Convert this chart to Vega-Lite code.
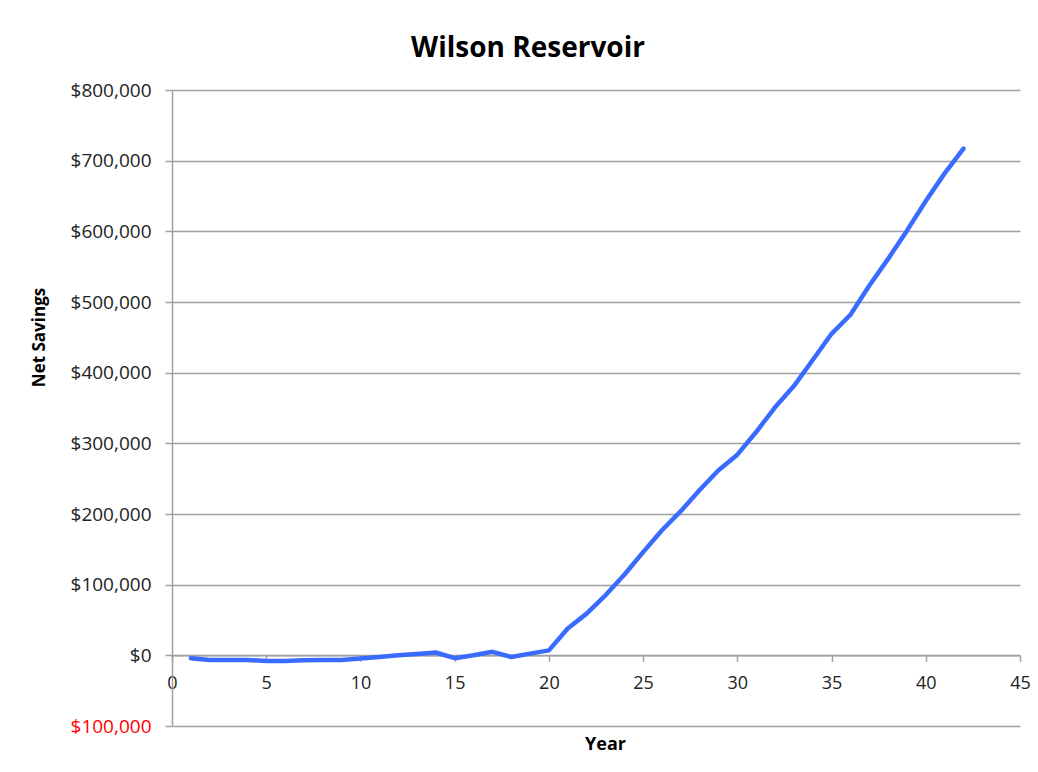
{
  "$schema": "https://vega.github.io/schema/vega-lite/v6.json",
  "autosize": "none",
  "padding": {"left": 172, "top": 90, "right": 18, "bottom": 46},
  "width": 848,
  "height": 636,
  "background": "white",
  "title": {
    "text": "Wilson Reservoir",
    "font": "Open Sans",
    "fontSize": 28,
    "fontWeight": "bold",
    "color": "#000000",
    "anchor": "middle",
    "dx": -68,
    "offset": 18
  },
  "config": {
    "view": {"stroke": null},
    "axis": {
      "labelFont": "Open Sans",
      "titleFont": "Open Sans",
      "labelColor": "#222222",
      "titleColor": "#000000",
      "domainColor": "#a0a0a0",
      "tickColor": "#a0a0a0",
      "gridColor": "#a0a0a0",
      "domainWidth": 1.5,
      "tickWidth": 1.5,
      "gridWidth": 1.5
    }
  },
  "data": {
    "values": [
      {"year": 1, "savings": -4000},
      {"year": 2, "savings": -6500},
      {"year": 3, "savings": -6500},
      {"year": 4, "savings": -6500},
      {"year": 5, "savings": -8000},
      {"year": 6, "savings": -8000},
      {"year": 7, "savings": -7000},
      {"year": 8, "savings": -6500},
      {"year": 9, "savings": -6500},
      {"year": 10, "savings": -4500},
      {"year": 11, "savings": -2400},
      {"year": 12, "savings": 0},
      {"year": 13, "savings": 2000},
      {"year": 14, "savings": 4000},
      {"year": 15, "savings": -4000},
      {"year": 16, "savings": 0},
      {"year": 17, "savings": 5000},
      {"year": 18, "savings": -2400},
      {"year": 19, "savings": 2400},
      {"year": 20, "savings": 7000},
      {"year": 21, "savings": 38000},
      {"year": 22, "savings": 59000},
      {"year": 23, "savings": 85000},
      {"year": 24, "savings": 114000},
      {"year": 25, "savings": 146000},
      {"year": 26, "savings": 177000},
      {"year": 27, "savings": 204000},
      {"year": 28, "savings": 234000},
      {"year": 29, "savings": 262000},
      {"year": 30, "savings": 284000},
      {"year": 31, "savings": 316000},
      {"year": 32, "savings": 351000},
      {"year": 33, "savings": 381000},
      {"year": 34, "savings": 418000},
      {"year": 35, "savings": 455000},
      {"year": 36, "savings": 482000},
      {"year": 37, "savings": 523000},
      {"year": 38, "savings": 561000},
      {"year": 39, "savings": 601000},
      {"year": 40, "savings": 643000},
      {"year": 41, "savings": 682000},
      {"year": 42, "savings": 717000}
    ]
  },
  "mark": {"type": "line", "color": "#3a6bff", "strokeWidth": 4.5, "strokeCap": "round", "strokeJoin": "round"},
  "encoding": {
    "x": {
      "field": "year",
      "type": "quantitative",
      "scale": {"domain": [0, 45], "nice": false, "zero": false},
      "axis": {
        "title": "Year",
        "titleFontSize": 18,
        "titleFontWeight": "bold",
        "titleY": 80,
        "titleX": 433,
        "offset": -70.67,
        "values": [0, 5, 10, 15, 20, 25, 30, 35, 40, 45],
        "grid": false,
        "tickSize": 6,
        "labelFontSize": 18,
        "labelPadding": 13,
        "labelFlush": false,
        "labelOverlap": false
      }
    },
    "y": {
      "field": "savings",
      "type": "quantitative",
      "scale": {"domain": [-100000, 800000], "nice": false},
      "axis": {
        "title": "Net Savings",
        "titleFontSize": 17,
        "titleFontWeight": "bold",
        "titleX": -133,
        "titleY": 247,
        "titleAngle": -90,
        "titleAlign": "center",
        "titleBaseline": "middle",
        "values": [-100000, 0, 100000, 200000, 300000, 400000, 500000, 600000, 700000, 800000],
        "grid": true,
        "tickSize": 7,
        "labelFontSize": 19,
        "labelPadding": 14,
        "labelExpr": "datum.value < 0 ? '$' + format(-datum.value, ',') : '$' + format(datum.value, ',')",
        "labelColor": {"condition": {"test": "datum.value < 0", "value": "#ff0000"}, "value": "#222222"}
      }
    }
  }
}
